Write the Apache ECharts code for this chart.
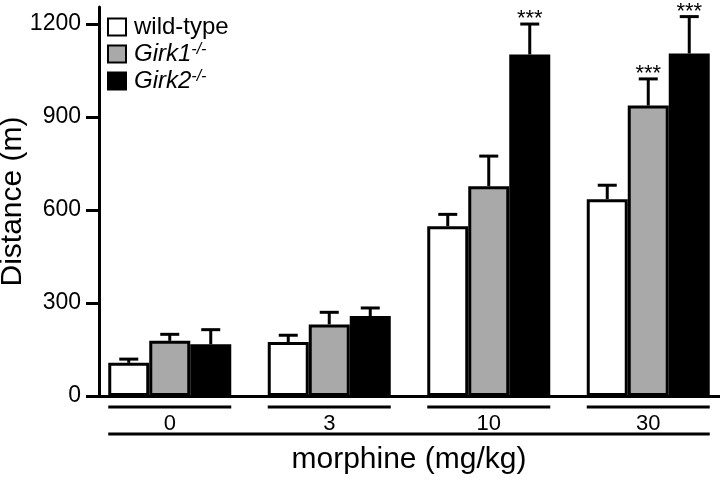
<!DOCTYPE html>
<html>
<head>
<meta charset="utf-8">
<script src="https://cdn.jsdelivr.net/npm/echarts@6/dist/echarts.min.js"></script>
<style>html,body{margin:0;padding:0;background:#fff}#chart{width:720px;height:480px}</style>
</head>
<body>
<div id="chart"></div>
<script>
// doses and group means / SEM
var doses = ['0', '3', '10', '30'];
var wildType = [107, 174, 548, 635];
var wildTypeSem = [12, 22, 38, 45];
var girk1 = [178, 231, 677, 937];
var girk1Sem = [21, 39, 97, 86];
var girk2 = [167, 258, 1102, 1105];
var girk2Sem = [47, 26, 98, 119];
var wildTypeSig = [0, 0, 0, 0];
var girk1Sig = [0, 0, 0, 1];
var girk2Sig = [0, 0, 1, 1];
var yTicks = [0, 300, 600, 900, 1200];

var FONT = '"Liberation Sans", Arial, Helvetica, sans-serif';
var BAR_W = 41;

var chart = echarts.init(document.getElementById('chart'));

function barSeries(name, values, fill) {
  return {
    type: 'bar',
    name: name,
    data: values,
    barWidth: BAR_W,
    barGap: '0%',
    z: 2,
    itemStyle: {color: fill, borderColor: '#000', borderWidth: 3}
  };
}

function errorSeries(means, sems, sig, slot) {
  var data = means.map(function (m, i) { return [i, m, m + sems[i], sig[i]]; });
  return {
    type: 'custom',
    z: 3,
    clip: false,
    silent: true,
    data: data,
    encode: {x: 0, y: [1, 2]},
    renderItem: function (params, api) {
      var base = api.coord([api.value(0), api.value(1)]);
      var top = api.coord([api.value(0), api.value(2)]);
      var x = base[0] + (slot - 1) * BAR_W;
      var kids = [
        {type: 'line', shape: {x1: x, y1: base[1], x2: x, y2: top[1]}, style: {stroke: '#000', lineWidth: 3}},
        {type: 'line', shape: {x1: x - 9.5, y1: top[1], x2: x + 9.5, y2: top[1]}, style: {stroke: '#000', lineWidth: 3}}
      ];
      if (api.value(3)) {
        kids.push({type: 'text', style: {x: x, y: top[1] - 5, text: '***', font: '22px ' + FONT, fill: '#000', align: 'center', verticalAlign: 'middle'}});
      }
      return {type: 'group', children: kids};
    }
  };
}

// bracket lines under each dose group; the first item also draws the long one under all groups
var groupLines = {
  type: 'custom',
  z: 3,
  clip: false,
  silent: true,
  data: doses.map(function (d, i) { return [i, 0]; }),
  encode: {x: 0, y: 1},
  renderItem: function (params, api) {
    var i = api.value(0);
    var p = api.coord([i, 0]);
    var half = BAR_W * 1.5;
    var y1 = p[1] + 11, y2 = p[1] + 38;
    var kids = [
      {type: 'line', shape: {x1: p[0] - half, y1: y1, x2: p[0] + half, y2: y1}, style: {stroke: '#000', lineWidth: 3}}
    ];
    if (i === 0) {
      var last = api.coord([doses.length - 1, 0]);
      kids.push({type: 'line', shape: {x1: p[0] - half, y1: y2, x2: last[0] + half, y2: y2}, style: {stroke: '#000', lineWidth: 3}});
    }
    return {type: 'group', children: kids};
  }
};

var option = {
  animation: false,
  backgroundColor: '#fff',
  grid: {left: 90, width: 638, top: 7, bottom: 84, containLabel: false, outerBoundsMode: 'none'},
  legend: {
    orient: 'vertical',
    left: 107,
    top: 15,
    padding: 0,
    icon: 'rect',
    itemWidth: 18,
    itemHeight: 17,
    itemGap: 3,
    data: ['wild-type', 'Girk1-/-', 'Girk2-/-'],
    formatter: function (name) {
      var m = name.match(/^(Girk\d)(.*)$/);
      return m ? '{i|' + m[1] + '}{s|' + m[2] + '}' : '{n|' + name + '}';
    },
    textStyle: {
      fontFamily: FONT, fontSize: 24, color: '#000', padding: [0, 0, 0, 3],
      rich: {
        n: {fontFamily: FONT, fontSize: 24, color: '#000'},
        i: {fontFamily: FONT, fontSize: 24, fontStyle: 'italic', color: '#000'},
        s: {fontFamily: FONT, fontSize: 16, fontStyle: 'italic', color: '#000', verticalAlign: 'top'}
      }
    }
  },
  xAxis: {
    type: 'category',
    data: doses,
    name: 'morphine (mg/kg)',
    nameLocation: 'middle',
    nameGap: 49,
    nameTextStyle: {fontFamily: FONT, fontSize: 30, color: '#000'},
    axisLine: {lineStyle: {color: '#000', width: 3}},
    axisTick: {show: false},
    axisLabel: {fontFamily: FONT, fontSize: 22, color: '#000', margin: 17}
  },
  yAxis: {
    type: 'value',
    min: 0,
    max: 1255,
    offset: -9,
    name: 'Distance (m)',
    nameLocation: 'middle',
    nameGap: 71,
    nameMoveOverlap: false,
    nameTextStyle: {fontFamily: FONT, fontSize: 30, color: '#000'},
    axisLine: {show: true, lineStyle: {color: '#000', width: 3}},
    axisTick: {show: true, length: 13, lineStyle: {color: '#000', width: 3}, customValues: yTicks},
    axisLabel: {fontFamily: FONT, fontSize: 23, color: '#000', margin: 18, customValues: yTicks,
      formatter: function (v) { return String(v); }},
    splitLine: {show: false}
  },
  series: [
    barSeries('wild-type', wildType, '#fff'),
    barSeries('Girk1-/-', girk1, '#a9a9a9'),
    barSeries('Girk2-/-', girk2, '#000'),
    errorSeries(wildType, wildTypeSem, wildTypeSig, 0),
    errorSeries(girk1, girk1Sem, girk1Sig, 1),
    errorSeries(girk2, girk2Sem, girk2Sig, 2),
    groupLines
  ]
};

chart.setOption(option);
</script>
</body>
</html>
